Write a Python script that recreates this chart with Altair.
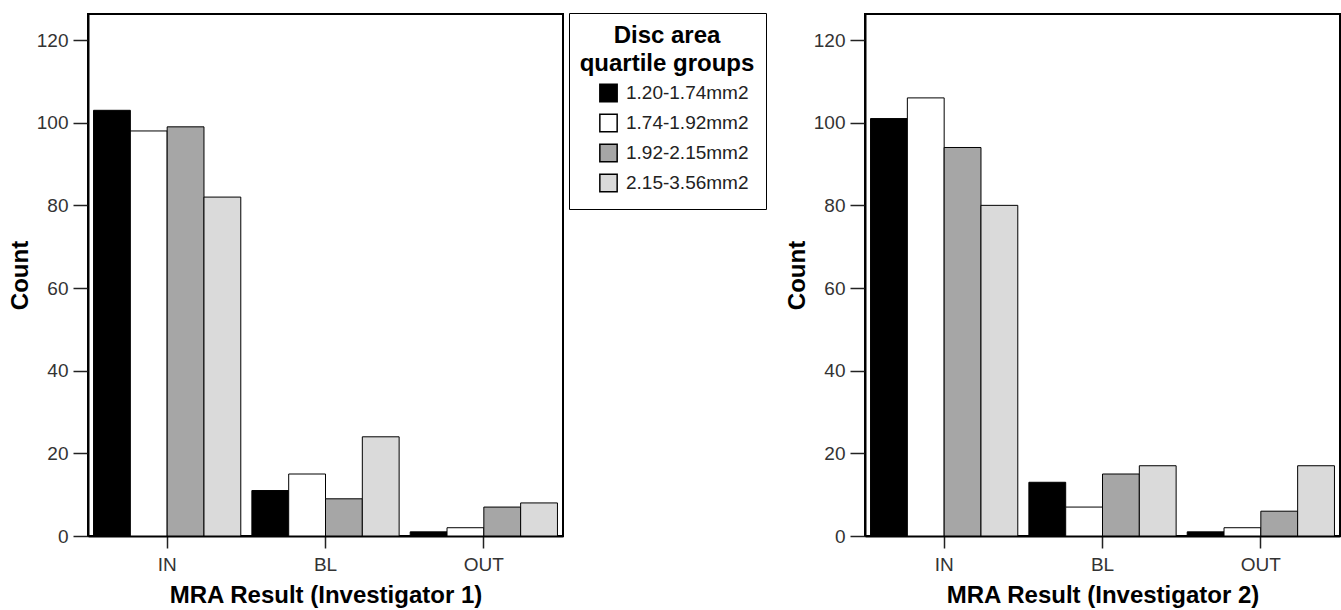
import altair as alt
import pandas as pd

results = ["IN", "BL", "OUT"]
groups = ["1.20-1.74mm2", "1.74-1.92mm2", "1.92-2.15mm2", "2.15-3.56mm2"]
colors = ["#000000", "#ffffff", "#a6a6a6", "#dadada"]

# counts per result (rows) and group (columns)
inv1 = {"IN": [103, 98, 99, 82], "BL": [11, 15, 9, 24], "OUT": [1, 2, 7, 8]}
inv2 = {"IN": [101, 106, 94, 80], "BL": [13, 7, 15, 17], "OUT": [1, 2, 6, 17]}


def frame(d):
    rows = []
    for r in results:
        for g, v in zip(groups, d[r]):
            rows.append({"result": r, "group": g, "count": v})
    return pd.DataFrame(rows)


legend = alt.Legend(
    orient="none", legendX=481, legendY=-1,
    title=["Disc area", "quartile groups"],
    titleFont="Liberation Sans", titleFontSize=24, titleFontWeight="bold",
    titleAlign="center", titleAnchor="middle", titleLineHeight=28,
    titlePadding=2, titleColor="#000",
    labelFont="Liberation Sans", labelFontSize=19, labelColor="#222",
    labelOffset=8, symbolType="square", symbolSize=300,
    symbolStrokeColor="#000", symbolStrokeWidth=1.5, symbolOffset=13,
    clipHeight=30, rowPadding=0, padding=11,
    strokeColor="#000", fillColor="#fff",
)


def panel(d, title):
    return alt.Chart(frame(d)).mark_bar(stroke="#000", strokeWidth=1).encode(
        x=alt.X("result:N", sort=results,
                scale=alt.Scale(paddingInner=0.07, paddingOuter=0.035),
                axis=alt.Axis(title=title, labelAngle=0, tickSize=12,
                              labelPadding=7, titlePadding=9)),
        xOffset=alt.XOffset("group:N", sort=groups,
                            scale=alt.Scale(paddingInner=0, paddingOuter=0)),
        y=alt.Y("count:Q",
                scale=alt.Scale(domain=[0, 126.3], nice=False, zero=True),
                axis=alt.Axis(title="Count", values=[0, 20, 40, 60, 80, 100, 120],
                              tickSize=15, labelPadding=5, titlePadding=4,
                              grid=False)),
        color=alt.Color("group:N", sort=groups,
                        scale=alt.Scale(domain=groups, range=colors),
                        legend=legend),
    ).properties(width=475, height=522)


left = panel(inv1, "MRA Result (Investigator 1)")
right = panel(inv2, "MRA Result (Investigator 2)")

chart = alt.hconcat(left, right, spacing=220).resolve_scale(
    color="shared"
).properties(
    padding={"left": 7, "top": 12, "right": 0, "bottom": 0},
    background="#ffffff",
).configure_view(
    stroke="#000", strokeWidth=2
).configure_axis(
    labelFont="Liberation Sans", labelFontSize=19, labelColor="#333",
    titleFont="Liberation Sans", titleFontSize=24, titleFontWeight="bold",
    titleColor="#000", domainColor="#000", domainWidth=2,
    tickColor="#222", tickWidth=1.5,
)

chart.save("out.html", embed_options={"renderer": "svg", "actions": False})
